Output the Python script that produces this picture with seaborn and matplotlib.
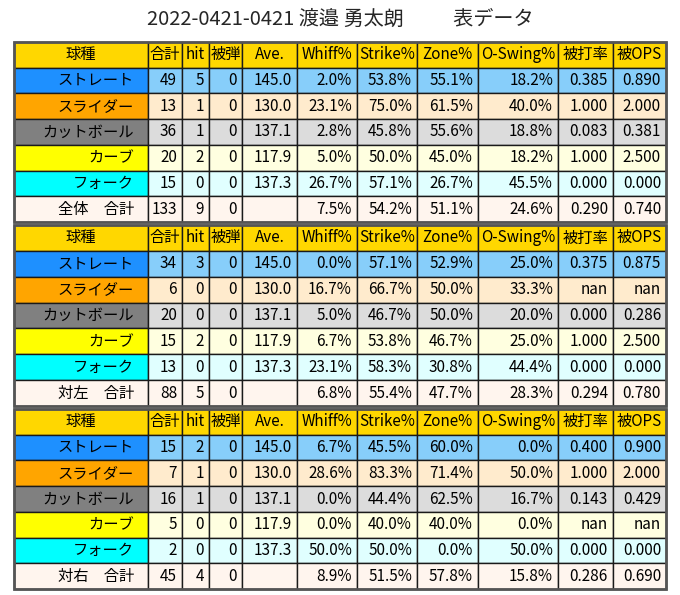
import math

import matplotlib.pyplot as plt
import matplotlib.patches as mpatches
import seaborn as sns

# ---------------------------------------------------------------------------
# Data
# ---------------------------------------------------------------------------
TITLE = "2022-0421-0421 渡邉 勇太朗　　  表データ"

columns = ["球種", "合計", "hit", "被弾", "Ave.", "Whiff%", "Strike%",
           "Zone%", "O-Swing%", "被打率", "被OPS"]
pitch_types = ["ストレート", "スライダー", "カットボール", "カーブ", "フォーク"]
velocity = [145.0, 130.0, 137.1, 117.9, 137.3]
nan = float("nan")

# 全体
all_label = "全体　合計"
all_count = [49, 13, 36, 20, 15, 133]
all_hit = [5, 1, 1, 2, 0, 9]
all_hr = [0, 0, 0, 0, 0, 0]
all_whiff = [2.0, 23.1, 2.8, 5.0, 26.7, 7.5]
all_strike = [53.8, 75.0, 45.8, 50.0, 57.1, 54.2]
all_zone = [55.1, 61.5, 55.6, 45.0, 26.7, 51.1]
all_oswing = [18.2, 40.0, 18.8, 18.2, 45.5, 24.6]
all_avg = [0.385, 1.000, 0.083, 1.000, 0.000, 0.290]
all_ops = [0.890, 2.000, 0.381, 2.500, 0.000, 0.740]

# 対左
left_label = "対左　合計"
left_count = [34, 6, 20, 15, 13, 88]
left_hit = [3, 0, 0, 2, 0, 5]
left_hr = [0, 0, 0, 0, 0, 0]
left_whiff = [0.0, 16.7, 5.0, 6.7, 23.1, 6.8]
left_strike = [57.1, 66.7, 46.7, 53.8, 58.3, 55.4]
left_zone = [52.9, 50.0, 50.0, 46.7, 30.8, 47.7]
left_oswing = [25.0, 33.3, 20.0, 25.0, 44.4, 28.3]
left_avg = [0.375, nan, 0.000, 1.000, 0.000, 0.294]
left_ops = [0.875, nan, 0.286, 2.500, 0.000, 0.780]

# 対右
right_label = "対右　合計"
right_count = [15, 7, 16, 5, 2, 45]
right_hit = [2, 1, 1, 0, 0, 4]
right_hr = [0, 0, 0, 0, 0, 0]
right_whiff = [6.7, 28.6, 0.0, 0.0, 50.0, 8.9]
right_strike = [45.5, 83.3, 44.4, 40.0, 50.0, 51.5]
right_zone = [60.0, 71.4, 62.5, 40.0, 0.0, 57.8]
right_oswing = [0.0, 50.0, 16.7, 0.0, 50.0, 15.8]
right_avg = [0.400, 1.000, 0.143, nan, 0.000, 0.286]
right_ops = [0.900, 2.000, 0.429, nan, 0.000, 0.690]

# ---------------------------------------------------------------------------
# Style
# ---------------------------------------------------------------------------
HEADER_COLOR = "#FFD700"
LABEL_COLORS = ["#1E90FF", "#FFA500", "#808080", "#FFFF00", "#00FFFF"]
ROW_COLORS = ["#87CEFA", "#FFEBCD", "#DCDCDC", "#FFFFE0", "#E0FFFF"]
TOTAL_COLOR = "#FFF5EE"

sns.set_theme(style="white")
plt.rcParams["font.family"] = ["Noto Sans CJK JP", "DejaVu Sans"]

W, H = 680, 595
col_edges = [14, 148, 182, 209, 242, 297, 357, 417, 478, 558, 613, 666]
table_spans = [(42, 222), (225, 406), (409, 589)]


def build_rows(label, count, hit, hr, whiff, strike, zone, oswing, avg, ops):
    rows = []
    names = pitch_types + [label]
    for i, name in enumerate(names):
        ave = f"{velocity[i]:.1f}" if i < len(pitch_types) else ""
        rows.append([
            name, f"{count[i]}", f"{hit[i]}", f"{hr[i]}", ave,
            f"{whiff[i]:.1f}%", f"{strike[i]:.1f}%", f"{zone[i]:.1f}%",
            f"{oswing[i]:.1f}%",
            "nan" if math.isnan(avg[i]) else f"{avg[i]:.3f}",
            "nan" if math.isnan(ops[i]) else f"{ops[i]:.3f}",
        ])
    return rows


tables = [
    build_rows(all_label, all_count, all_hit, all_hr, all_whiff, all_strike,
               all_zone, all_oswing, all_avg, all_ops),
    build_rows(left_label, left_count, left_hit, left_hr, left_whiff,
               left_strike, left_zone, left_oswing, left_avg, left_ops),
    build_rows(right_label, right_count, right_hit, right_hr, right_whiff,
               right_strike, right_zone, right_oswing, right_avg, right_ops),
]

fig = plt.figure(figsize=(W / 100, H / 100), dpi=100)
fig.patch.set_facecolor("white")
ax = fig.add_axes([0, 0, 1, 1])
ax.set_axis_off()

widths = [b - a for a, b in zip(col_edges[:-1], col_edges[1:])]
total_w = col_edges[-1] - col_edges[0]

for rows, (top, bottom) in zip(tables, table_spans):
    bbox = [col_edges[0] / W, 1 - bottom / H, total_w / W, (bottom - top) / H]
    cell_colors = []
    for r in range(len(rows)):
        if r < len(pitch_types):
            cell_colors.append([LABEL_COLORS[r]] + [ROW_COLORS[r]] * (len(columns) - 1))
        else:
            cell_colors.append([TOTAL_COLOR] * len(columns))
    tbl = ax.table(cellText=rows, colLabels=columns, cellColours=cell_colors,
                   colColours=[HEADER_COLOR] * len(columns),
                   colWidths=[w / total_w for w in widths],
                   bbox=bbox, cellLoc="right")
    tbl.auto_set_font_size(False)
    tbl.set_fontsize(11)
    for (r, c), cell in tbl.get_celld().items():
        cell.set_edgecolor("#1a1a1a")
        cell.set_linewidth(1.0)
        txt = cell.get_text()
        txt.set_color("black")
        if r == 0:
            txt.set_horizontalalignment("center")
        else:
            txt.set_horizontalalignment("right")
            pad = 14 if c == 0 else 5
            cell.PAD = pad / widths[c]
    # outer frame of each table
    ax.add_patch(mpatches.Rectangle((bbox[0], bbox[1]), bbox[2], bbox[3],
                                    transform=ax.transAxes, fill=False,
                                    edgecolor="#555555", linewidth=2.0,
                                    zorder=5))

fig.text(340 / W, 1 - 19 / H, TITLE, ha="center", va="center", fontsize=14.5)

fig.savefig("out.png", dpi=100)
